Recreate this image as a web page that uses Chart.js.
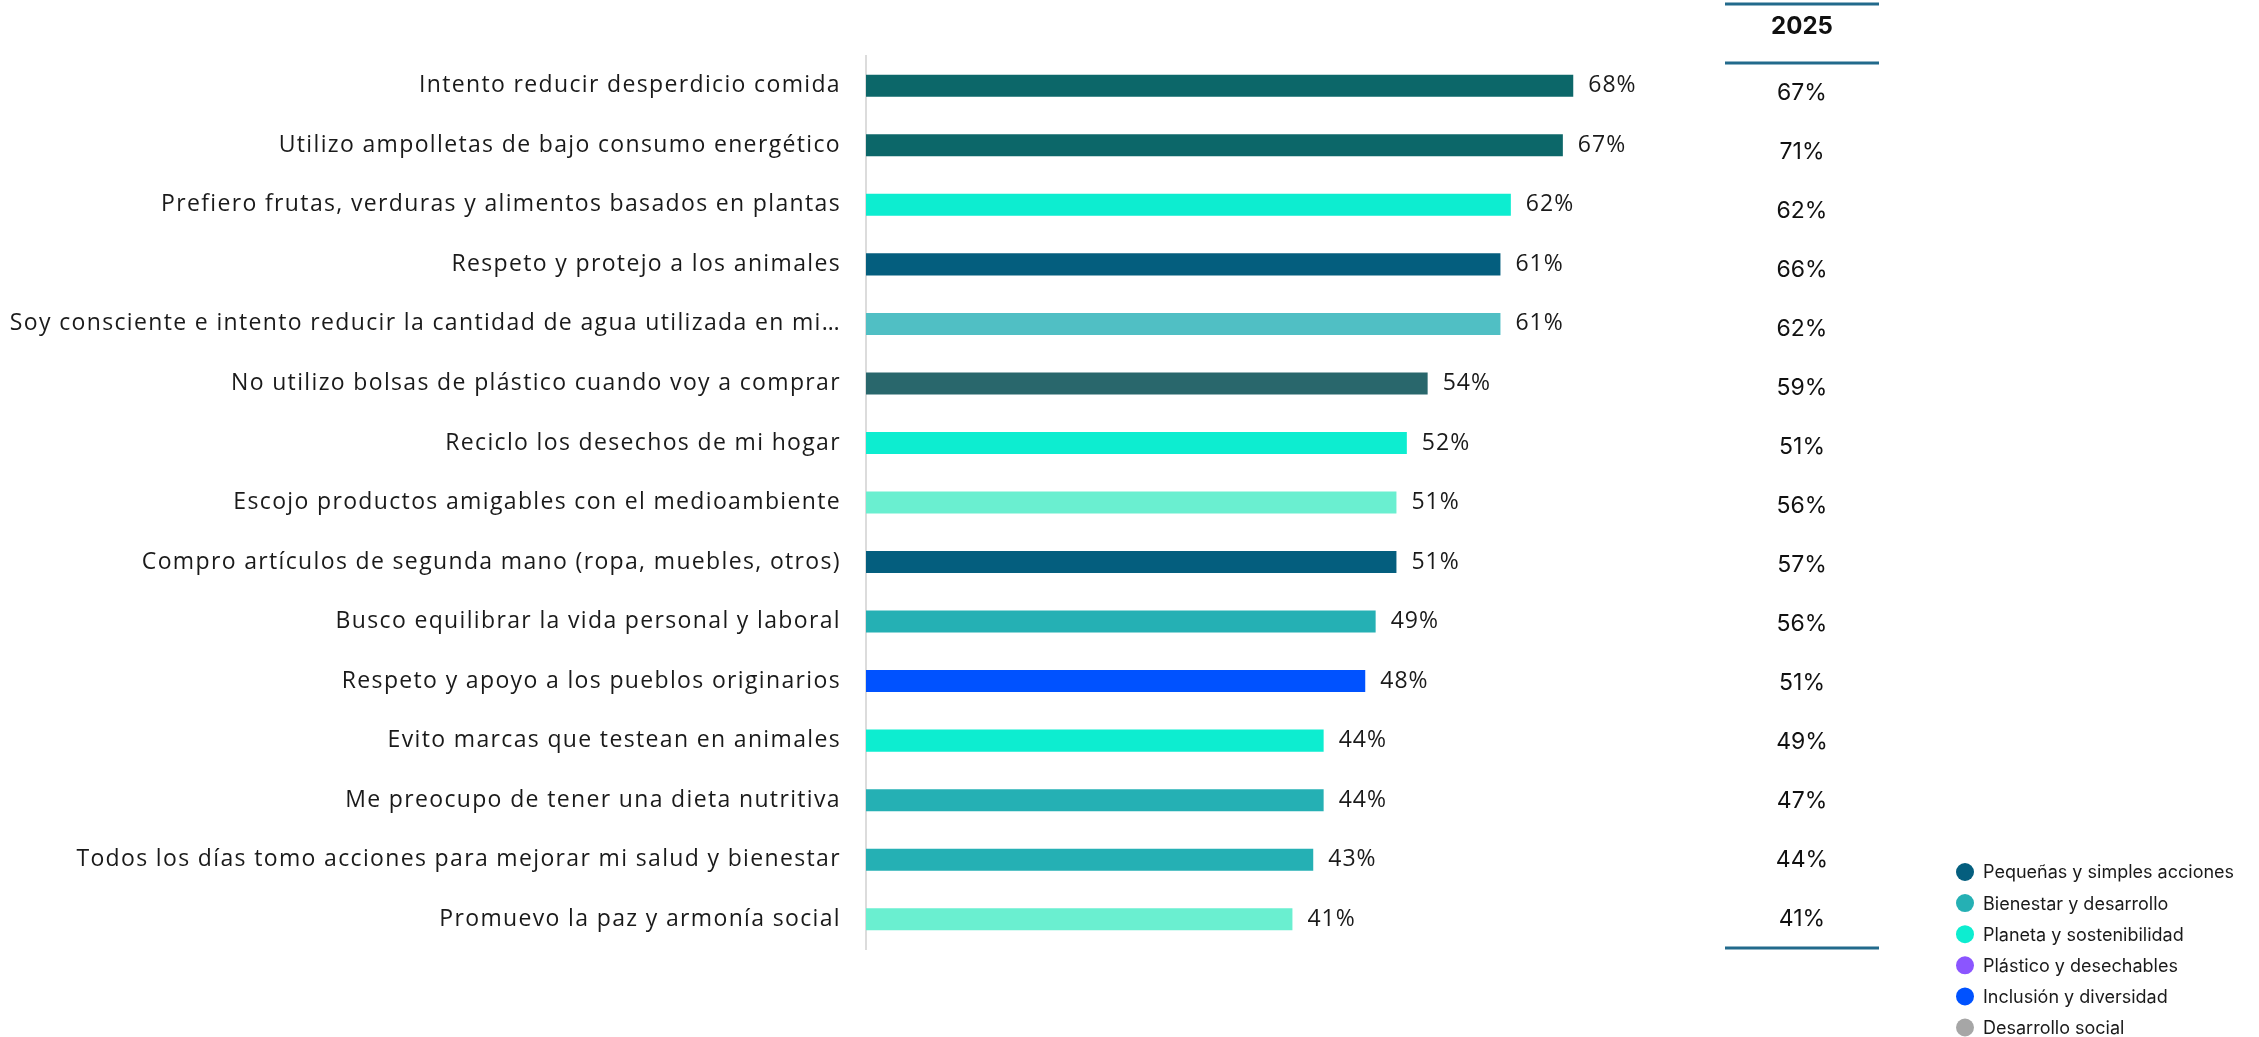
<!DOCTYPE html>
<html lang="es">
<head>
<meta charset="utf-8">
<title>Acciones sostenibles</title>
<script src="https://cdn.jsdelivr.net/npm/chart.js@4.4.1/dist/chart.umd.min.js"></script>
<style>
  html, body { margin: 0; padding: 0; background: #fff; }
  #wrap { position: relative; width: 2259px; height: 1037px; }
</style>
</head>
<body>
<div id="wrap"><canvas id="actionsChart" width="2259" height="1037"></canvas></div>
<script>
const actions = [
  'Intento reducir desperdicio comida',
  'Utilizo ampolletas de bajo consumo energético',
  'Prefiero frutas, verduras y alimentos basados en plantas',
  'Respeto y protejo a los animales',
  'Soy consciente e intento reducir la cantidad de agua utilizada en mi…',
  'No utilizo bolsas de plástico cuando voy a comprar',
  'Reciclo los desechos de mi hogar',
  'Escojo productos amigables con el medioambiente',
  'Compro artículos de segunda mano (ropa, muebles, otros)',
  'Busco equilibrar la vida personal y laboral',
  'Respeto y apoyo a los pueblos originarios',
  'Evito marcas que testean en animales',
  'Me preocupo de tener una dieta nutritiva',
  'Todos los días tomo acciones para mejorar mi salud y bienestar',
  'Promuevo la paz y armonía social'
];
const currentPct = [68, 67, 62, 61, 61, 54, 52, 51, 51, 49, 48, 44, 44, 43, 41];
const pct2025 = [67, 71, 62, 66, 62, 59, 51, 56, 57, 56, 51, 49, 47, 44, 41];
const barColors = [
  '#0c6769', '#0c6769', '#0dedd0', '#045e7e', '#50bfc4',
  '#29676c', '#0dedd0', '#6aefd0', '#045e7e', '#25b0b4',
  '#0052ff', '#0dedd0', '#25b0b4', '#25b0b4', '#6aefd0'
];
const groupNames = [
  'Pequeñas y simples acciones',
  'Bienestar y desarrollo',
  'Planeta y sostenibilidad',
  'Plástico y desechables',
  'Inclusión y diversidad',
  'Desarrollo social'
];
const groupColors = ['#045e7e', '#25b0b4', '#0dedd0', '#8b55ff', '#0052ff', '#a6a6a6'];

const labelFont = '"Open Sans", "Noto Sans", sans-serif';
const numFont = 'Inter, "Noto Sans", sans-serif';

// the category labels are set with a bit of tracking
const tracking = {
  id: 'tracking',
  beforeDraw(chart) { chart.ctx.letterSpacing = '1.35px'; }
};

// value at the end of each bar
const barValues = {
  id: 'barValues',
  afterDatasetsDraw(chart) {
    const ctx = chart.ctx;
    const meta = chart.getDatasetMeta(0);
    ctx.save();
    ctx.letterSpacing = '1px';
    ctx.font = '23px ' + labelFont;
    ctx.fillStyle = '#1a1a1a';
    ctx.textAlign = 'left';
    ctx.textBaseline = 'middle';
    meta.data.forEach((bar, i) => {
      ctx.fillText(currentPct[i] + '%', bar.x + 15, bar.y);
    });
    ctx.restore();
  }
};

// 2025 comparison column and the category legend
const sideTable = {
  id: 'sideTable',
  afterDraw(chart) {
    const ctx = chart.ctx;
    const y = chart.scales.y;
    const colX = 1802, x0 = 1725, x1 = 1879;
    ctx.save();
    ctx.letterSpacing = '0px';
    ctx.strokeStyle = '#226a8c';
    ctx.lineWidth = 3;
    [4, 63, 948].forEach(ly => {
      ctx.beginPath();
      ctx.moveTo(x0, ly);
      ctx.lineTo(x1, ly);
      ctx.stroke();
    });
    ctx.fillStyle = '#111';
    ctx.textAlign = 'center';
    ctx.textBaseline = 'middle';
    ctx.font = 'bold 24px ' + numFont;
    ctx.fillText('2025', colX, 27);
    ctx.font = '23px ' + numFont;
    pct2025.forEach((v, i) => {
      ctx.fillText(v + '%', colX, y.getPixelForValue(i) + 7 * (1 - i / 14));
    });

    ctx.textAlign = 'left';
    ctx.font = '18px ' + numFont;
    groupNames.forEach((name, i) => {
      const cy = 872 + i * 31.1;
      ctx.fillStyle = groupColors[i];
      ctx.beginPath();
      ctx.arc(1965, cy, 9, 0, Math.PI * 2);
      ctx.fill();
      ctx.fillStyle = '#1a1a1a';
      ctx.fillText(name, 1983, cy + 1);
    });
    ctx.restore();
  }
};

new Chart(document.getElementById('actionsChart'), {
  type: 'bar',
  data: {
    labels: actions,
    datasets: [{
      data: currentPct,
      backgroundColor: barColors,
      barPercentage: 0.37,
      categoryPercentage: 1
    }]
  },
  options: {
    indexAxis: 'y',
    responsive: false,
    animation: false,
    layout: { padding: { top: 56, bottom: 88, left: 0, right: 355 } },
    plugins: { legend: { display: false }, tooltip: { enabled: false } },
    scales: {
      x: { display: false, min: 0, max: 99.8 },
      y: {
        grid: { display: false },
        border: { display: true, color: '#dcdcdc', width: 2 },
        ticks: { padding: 17, color: '#1a1a1a', font: { family: labelFont, size: 23 } },
        afterFit(scale) { scale.width = 866; }
      }
    }
  },
  plugins: [tracking, barValues, sideTable]
});
</script>
</body>
</html>
